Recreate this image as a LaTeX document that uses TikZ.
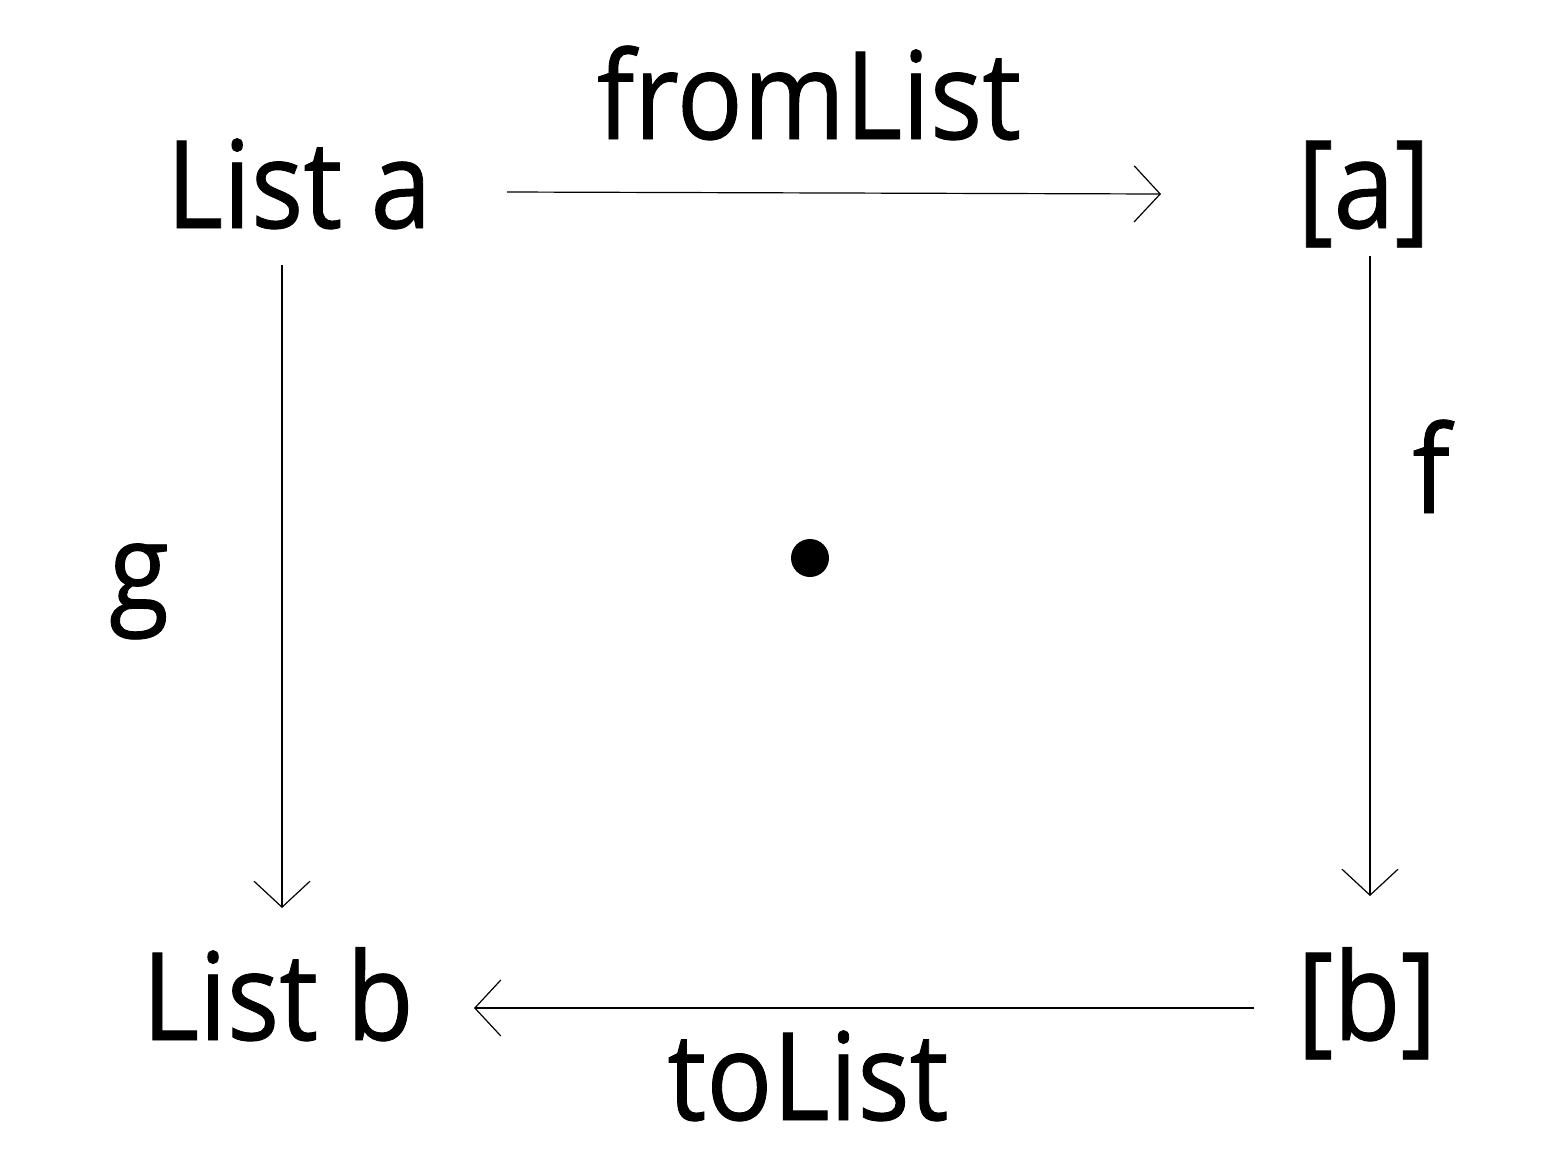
\documentclass[tikz,border=0pt]{standalone}
\usepackage{fontspec}
\setmainfont{Open Sans}[FakeStretch=0.9,FakeBold=0.7]
\usetikzlibrary{arrows.meta}
\begin{document}
\begin{tikzpicture}[x=0.5pt,y=-0.5pt,
  lbl/.style={anchor=base,inner sep=0pt,font=\fontsize{61}{70}\selectfont},
  arr/.style={line width=0.6pt,-{Straight Barb[length=13pt,width=28pt,line width=0.6pt]}}]
\useasboundingbox (0,0) rectangle (1554,1152);
\node[lbl] (LA) at (299,228) {List a};
\node[lbl] (A) at (1364,228) {[a]};
\node[lbl] (LB) at (278,1040) {List b};
\node[lbl] (B) at (1367,1040) {[b]};
\node[lbl] (fl) at (809,139) {fromList};
\node[lbl] (tl) at (808,1120) {toList};
\node[lbl] (g) at (139,610) {g};
\node[lbl] (f) at (1431,513) {f};
\fill (810,558) circle (9.5pt) node (dot) {};
\coordinate (LAr) at (507,192);
\coordinate (Al) at (1161,194);
\coordinate (LAb) at (282,265);
\coordinate (LBt) at (282,908);
\coordinate (Ab) at (1370,256);
\coordinate (Bt) at (1370,896);
\coordinate (Bl) at (1254,1008);
\coordinate (LBr) at (474,1008);
\draw[arr] (LAr) -- (Al);
\draw[arr] (LAb) -- (LBt);
\draw[arr] (Ab) -- (Bt);
\draw[arr] (Bl) -- (LBr);
\end{tikzpicture}
\end{document}
